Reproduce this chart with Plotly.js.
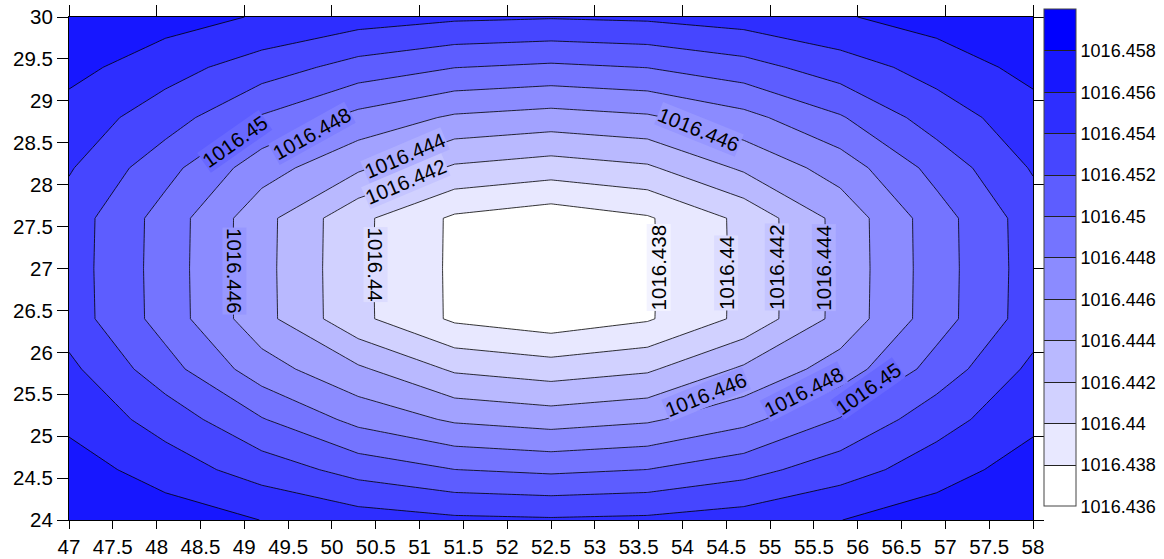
<!DOCTYPE html>
<html><head><meta charset="utf-8">
<script src="https://cdn.plot.ly/plotly-3.0.1.min.js"></script>
<style>html,body{margin:0;padding:0;background:#fff}#chart{width:1164px;height:559px}</style>
</head><body><div id="chart"></div>
<script>
// grid longitudes / latitudes
const xValues = [47, 48.1, 49.2, 50.3, 51.4, 52.5, 53.6, 54.7, 55.8, 56.9, 58];
const yValues = [24, 24.6, 25.2, 25.8, 26.4, 27, 27.6, 28.2, 28.8, 29.4, 30];
// pressure values, one row per latitude (bottom to top)
const zRow24   = [1016.4578, 1016.45718, 1016.45597, 1016.4550, 1016.4544, 1016.45423, 1016.4544, 1016.4550, 1016.45597, 1016.45718, 1016.4578];
const zRow24_6 = [1016.45702, 1016.4550, 1016.45312, 1016.45125, 1016.45002, 1016.44961, 1016.45002, 1016.45125, 1016.45312, 1016.4550, 1016.45702];
const zRow25_2 = [1016.45545, 1016.4532, 1016.45013, 1016.4474, 1016.4457, 1016.4451, 1016.4457, 1016.4474, 1016.45013, 1016.4532, 1016.45545];
const zRow25_8 = [1016.45448, 1016.4508, 1016.4469, 1016.44433, 1016.4417, 1016.44099, 1016.4417, 1016.44433, 1016.4469, 1016.4508, 1016.45448];
const zRow26_4 = [1016.45305, 1016.44916, 1016.44469, 1016.44048, 1016.43767, 1016.43679, 1016.43779, 1016.44048, 1016.44466, 1016.44911, 1016.45303];
const zRow27   = [1016.4530, 1016.44912, 1016.44465, 1016.44045, 1016.43765, 1016.4366, 1016.43775, 1016.44045, 1016.44462, 1016.44908, 1016.45298];
const zRow27_6 = [1016.45305, 1016.44916, 1016.44469, 1016.44048, 1016.43767, 1016.4368, 1016.43779, 1016.44048, 1016.44466, 1016.44911, 1016.45303];
const zRow28_2 = [1016.45419, 1016.4507, 1016.44689, 1016.44433, 1016.4417, 1016.4410, 1016.4417, 1016.44433, 1016.44689, 1016.4507, 1016.45419];
const zRow28_8 = [1016.45511, 1016.4530, 1016.4498, 1016.44737, 1016.4457, 1016.44517, 1016.4457, 1016.44737, 1016.4498, 1016.4530, 1016.45511];
const zRow29_4 = [1016.45668, 1016.45476, 1016.45306, 1016.4512, 1016.45004, 1016.44963, 1016.45004, 1016.4512, 1016.45306, 1016.45476, 1016.45668];
const zRow30   = [1016.4576, 1016.45691, 1016.4558, 1016.45494, 1016.45436, 1016.45415, 1016.45436, 1016.45494, 1016.4558, 1016.45691, 1016.4576];
const zValues = [zRow24, zRow24_6, zRow25_2, zRow25_8, zRow26_4, zRow27, zRow27_6, zRow28_2, zRow28_8, zRow29_4, zRow30];

const levelStart = 1016.438;
const levelEnd = 1016.458;
const levelStep = 0.002;
const scaleMin = 1016.436;
const scaleMax = 1016.460;
const colorbarTickValues = [1016.436, 1016.438, 1016.440, 1016.442, 1016.444, 1016.446, 1016.448, 1016.450, 1016.452, 1016.454, 1016.456, 1016.458];
const colorbarTickText = ['1016.436', '1016.438', '1016.44', '1016.442', '1016.444', '1016.446', '1016.448', '1016.45', '1016.452', '1016.454', '1016.456', '1016.458'];

const FONT = 'Liberation Sans, Arial, Helvetica, sans-serif';
const nBands = 12;

function bandColor(k) {
  const c = Math.round(255 * (1 - k / (nBands - 1)));
  return 'rgb(' + c + ',' + c + ',255)';
}
// stepped colour scale for the colour bar: one flat step per band
const steppedScale = [];
for (let k = 0; k < nBands; k++) {
  steppedScale.push([k / nBands, bandColor(k)]);
  steppedScale.push([(k + 1) / nBands, bandColor(k)]);
}
// colour midway between the two bands that meet at a contour level (hides the line under its label)
function levelBg(levelIndex) {
  const f = (levelIndex - 0.5) / (nBands - 1);
  const c = Math.round(255 * (1 - f));
  return 'rgb(' + c + ',' + c + ',255)';
}

// hidden under the contour fill; only carries the stepped colour bar
const scaleCarrier = {
  type: 'heatmap', x: xValues, y: yValues, z: zValues,
  zmin: scaleMin, zmax: scaleMax, colorscale: steppedScale, hoverinfo: 'skip',
  colorbar: {
    x: 1.0114, xanchor: 'left', xpad: 0,
    y: 0.5209, yanchor: 'middle', ypad: 0,
    len: 497, lenmode: 'pixels',
    thickness: 32, thicknessmode: 'pixels',
    outlinewidth: 1, outlinecolor: '#444444',
    tickmode: 'array',
    tickvals: colorbarTickValues.map((v, i) => i === 0 ? v + 1e-7 : v), ticktext: colorbarTickText,
    ticklabeloverflow: 'allow',
    ticks: 'inside', ticklen: 32, tickwidth: 1, tickcolor: '#222222',
    tickfont: {size: 18, color: '#000', family: FONT}
  }
};

const contour = {
  type: 'contour',
  x: xValues, y: yValues, z: zValues,
  autocontour: false,
  contours: {start: levelStart, end: levelEnd, size: levelStep, coloring: 'fill', showlines: true, showlabels: false},
  line: {color: '#000000', width: 0.8, smoothing: 0},
  colorscale: [[0, '#ffffff'], [1, '#0000ff']],
  showscale: false,
  hoverinfo: 'skip'
};
const dummy = {type: 'scatter', x: [], y: [], xaxis: 'x2', yaxis: 'y2', showlegend: false, hoverinfo: 'skip'};

function lbl(idx, x, y, angle) {
  return {text: colorbarTickText[idx], x: x, y: y, xref: 'x', yref: 'y', showarrow: false, textangle: angle,
          bgcolor: levelBg(idx), borderpad: 0,
          font: {size: 20.5, color: '#000', family: FONT}, xanchor: 'center', yanchor: 'middle'};
}
const annotations = [
  lbl(7, 48.89, 28.51, -35),
  lbl(6, 49.77, 28.61, -29),
  lbl(4, 50.83, 28.35, -23),
  lbl(3, 50.84, 28.035, -23),
  lbl(5, 54.19, 28.66, 22),
  lbl(5, 48.894, 26.97, 90),
  lbl(2, 50.5, 27.05, 90),
  lbl(1, 53.73, 27.01, -90),
  lbl(2, 54.5, 26.95, -90),
  lbl(3, 55.08, 27.02, -90),
  lbl(4, 55.615, 27.01, -90),
  lbl(5, 54.27, 25.50, -22),
  lbl(6, 55.39, 25.53, -27),
  lbl(7, 56.12, 25.57, -35)
];

const axisCommon = {ticks: 'outside', tickwidth: 1, tickcolor: '#000', showline: true, linecolor: '#000', linewidth: 1,
  mirror: true, showgrid: false, zeroline: false, tickangle: 0, tickfont: {size: 20.5, color: '#000', family: FONT}};

const layout = {
  width: 1164, height: 559,
  margin: {l: 69, r: 131, t: 17, b: 39, pad: 0, autoexpand: false},
  paper_bgcolor: '#ffffff', plot_bgcolor: '#ffffff',
  font: {family: FONT, color: '#000'},
  showlegend: false,
  xaxis: Object.assign({}, axisCommon, {range: [47, 58], tick0: 47, dtick: 0.5, ticklen: 8}),
  yaxis: Object.assign({}, axisCommon, {range: [24, 30], tick0: 24, dtick: 0.5, ticklen: 11}),
  xaxis2: {overlaying: 'x', side: 'top', anchor: 'y', range: [47, 58], tick0: 47, dtick: 1, ticks: 'outside', ticklen: 11,
    tickcolor: '#000', showticklabels: false, showgrid: false, zeroline: false, showline: false},
  yaxis2: {overlaying: 'y', side: 'right', anchor: 'x', range: [24, 30], tick0: 24, dtick: 1, ticks: 'outside', ticklen: 10,
    tickcolor: '#000', showticklabels: false, showgrid: false, zeroline: false, showline: false},
  annotations: annotations
};

Plotly.newPlot('chart', [scaleCarrier, contour, dummy], layout, {staticPlot: true, displayModeBar: false});
</script>
</body></html>
